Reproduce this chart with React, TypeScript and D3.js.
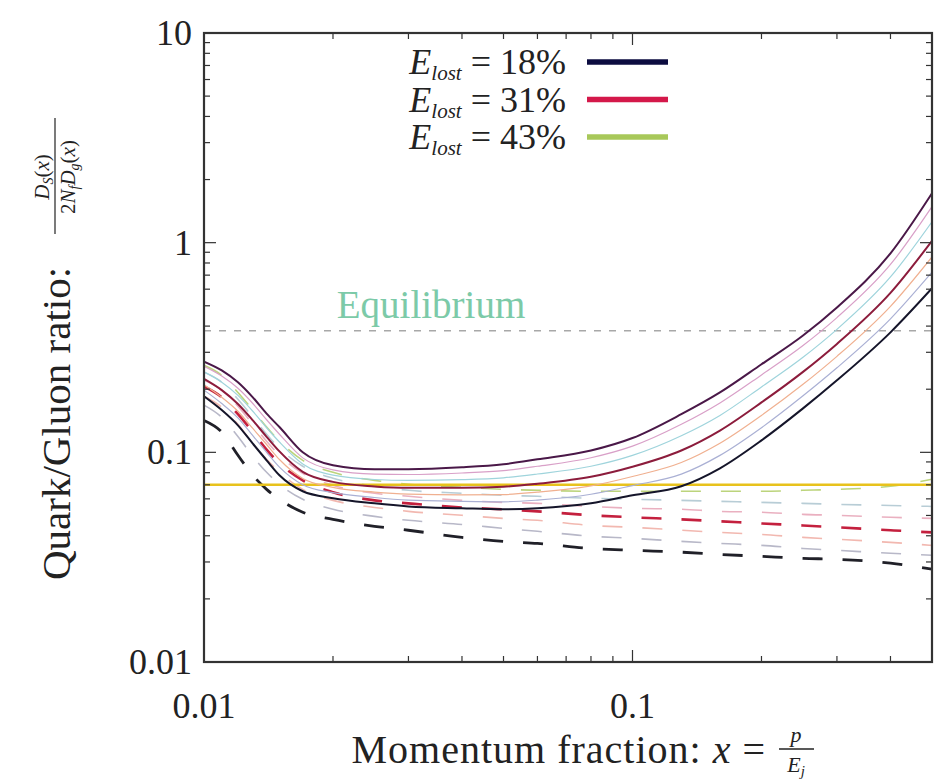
import React from "react";
import * as d3 from "d3";

// momentum fraction samples
const xs = [0.01, 0.011, 0.012, 0.013, 0.014, 0.015, 0.017, 0.02, 0.025, 0.03, 0.04, 0.05, 0.06, 0.08, 0.1, 0.13, 0.16, 0.2, 0.25, 0.3, 0.4, 0.5];

// solid curves, top to bottom
const solid0 = [0.271, 0.246, 0.216, 0.183, 0.153, 0.132, 0.1, 0.0867, 0.083, 0.083, 0.0848, 0.0877, 0.0926, 0.102, 0.117, 0.152, 0.193, 0.263, 0.361, 0.491, 0.889, 1.72];
const solid1 = [0.257, 0.231, 0.202, 0.171, 0.143, 0.122, 0.0941, 0.0824, 0.0787, 0.0784, 0.0797, 0.0818, 0.0858, 0.0942, 0.107, 0.136, 0.172, 0.234, 0.323, 0.439, 0.787, 1.485];
const solid2 = [0.242, 0.216, 0.187, 0.157, 0.131, 0.112, 0.088, 0.0778, 0.0742, 0.0735, 0.0741, 0.0756, 0.0788, 0.0858, 0.0967, 0.12, 0.15, 0.205, 0.284, 0.386, 0.686, 1.257];
const solid3 = [0.224, 0.198, 0.17, 0.142, 0.1186, 0.101, 0.0807, 0.0723, 0.0688, 0.0677, 0.0677, 0.0685, 0.0708, 0.0764, 0.0853, 0.102, 0.127, 0.173, 0.242, 0.329, 0.576, 1.02];
const solid4 = [0.21, 0.183, 0.157, 0.13, 0.109, 0.0924, 0.0751, 0.068, 0.0646, 0.0632, 0.0627, 0.0629, 0.0646, 0.0692, 0.0767, 0.0894, 0.1105, 0.15, 0.211, 0.287, 0.497, 0.855];
const solid5 = [0.198, 0.171, 0.146, 0.12, 0.1, 0.085, 0.0701, 0.0642, 0.0609, 0.0592, 0.0584, 0.0581, 0.0592, 0.0631, 0.0694, 0.0787, 0.0967, 0.131, 0.186, 0.253, 0.433, 0.723];
const solid6 = [0.185, 0.159, 0.1345, 0.11, 0.0916, 0.0777, 0.0652, 0.0604, 0.0571, 0.0552, 0.0541, 0.0535, 0.0541, 0.0571, 0.0624, 0.0689, 0.0839, 0.114, 0.162, 0.2205, 0.3735, 0.606];

// dashed curves, top to bottom
const dashed0 = [0.26, 0.233, 0.193, 0.159, 0.132, 0.113, 0.0916, 0.0803, 0.0735, 0.0704, 0.0681, 0.0666, 0.0659, 0.0652, 0.0652, 0.0652, 0.0652, 0.0652, 0.0659, 0.0666, 0.0689, 0.0744];
const dashed1 = [0.241, 0.216, 0.179, 0.147, 0.122, 0.1045, 0.0858, 0.0752, 0.0689, 0.0659, 0.0638, 0.0624, 0.0617, 0.0604, 0.0597, 0.059, 0.0584, 0.0577, 0.0571, 0.0565, 0.0558, 0.0552];
const dashed2 = [0.221, 0.198, 0.166, 0.136, 0.113, 0.0968, 0.0794, 0.0696, 0.0638, 0.0617, 0.059, 0.0577, 0.0571, 0.0552, 0.0541, 0.0535, 0.0523, 0.0518, 0.0506, 0.0501, 0.049, 0.0484];
const dashed3 = [0.206, 0.183, 0.152, 0.125, 0.103, 0.0886, 0.0735, 0.0645, 0.059, 0.0571, 0.0546, 0.0535, 0.0523, 0.0501, 0.049, 0.0479, 0.0469, 0.0458, 0.0448, 0.0439, 0.0425, 0.0415];
const dashed4 = [0.185, 0.164, 0.136, 0.11, 0.0926, 0.0803, 0.0666, 0.059, 0.0546, 0.0523, 0.0501, 0.0484, 0.0474, 0.0448, 0.0439, 0.0425, 0.0415, 0.0406, 0.0393, 0.0385, 0.0372, 0.036];
const dashed5 = [0.168, 0.147, 0.119, 0.0957, 0.0803, 0.0704, 0.0597, 0.0535, 0.0495, 0.0474, 0.0453, 0.0434, 0.042, 0.0398, 0.0389, 0.0376, 0.0368, 0.036, 0.0348, 0.0341, 0.033, 0.0323];
const dashed6 = [0.142, 0.125, 0.0968, 0.0777, 0.0666, 0.0597, 0.0518, 0.0479, 0.0444, 0.0425, 0.0393, 0.0376, 0.0368, 0.0348, 0.0341, 0.0334, 0.0326, 0.0319, 0.0312, 0.0309, 0.0296, 0.0277];

const equilibrium = 0.38;
const threshold = 0.07;

const legendLabels = ["18%", "31%", "43%"];
const legendColors = ["#0c0c40", "#d4184a", "#a8c85a"];

const yMajor = [0.01, 0.1, 1, 10];
const yTickLabels = ["0.01", "0.1", "1", "10"];
const xMajor = [0.01, 0.1];
const xTickLabels = ["0.01", "0.1"];

const solidSeries = [
  { values: solid0, color: "#4a1848", width: 2 },
  { values: solid1, color: "#d9a0c8", width: 1.2 },
  { values: solid2, color: "#9fd4dc", width: 1.2 },
  { values: solid3, color: "#8c1c3c", width: 2 },
  { values: solid4, color: "#f0b090", width: 1.2 },
  { values: solid5, color: "#aab0d4", width: 1.2 },
  { values: solid6, color: "#15152a", width: 2 },
];

const dashedSeries = [
  { values: dashed0, color: "#bcd47c", width: 1.6 },
  { values: dashed1, color: "#b8cdd6", width: 1.6 },
  { values: dashed2, color: "#eab0c0", width: 1.6 },
  { values: dashed3, color: "#c4203e", width: 2.6 },
  { values: dashed4, color: "#f2b8b0", width: 1.6 },
  { values: dashed5, color: "#b8b8c8", width: 1.6 },
  { values: dashed6, color: "#202028", width: 2.8 },
];

const W = 938;
const H = 784;
const serif = { fontFamily: "'Liberation Serif', 'DejaVu Serif', serif" };

export default function App() {
  const x = d3.scaleLog().domain([0.01, 0.5]).range([204, 932]);
  const y = d3.scaleLog().domain([0.01, 10]).range([662, 33]);
  const [x0, x1] = x.range();
  const [y0, y1] = y.range();

  const line = d3
    .line<number>()
    .x((_, i) => x(xs[i]))
    .y((d) => y(d))
    .curve(d3.curveMonotoneX);

  const yMinor = y.ticks().filter((t) => !yMajor.some((m) => Math.abs(m - t) / m < 1e-6));
  const xMinor = x.ticks().filter((t) => !xMajor.some((m) => Math.abs(m - t) / m < 1e-6));

  const frame = "#333";

  return (
    <svg width={W} height={H} style={{ position: "absolute", left: 0, top: 0, background: "#fff" }}>
      <defs>
        <clipPath id="plot">
          <rect x={x0} y={y1} width={x1 - x0} height={y0 - y1} />
        </clipPath>
      </defs>

      <g clipPath="url(#plot)">
        {/* equilibrium */}
        <line x1={x0} x2={x1} y1={y(equilibrium)} y2={y(equilibrium)} stroke="#a8a8a8" strokeWidth={1.3} strokeDasharray="7 8" />
        <text x={431} y={318} textAnchor="middle" fontSize={39} fill="#7ccaa8" style={serif}>
          Equilibrium
        </text>

        {dashedSeries.map((s, i) => (
          <path key={"d" + i} d={line(s.values) || ""} fill="none" stroke={s.color} strokeWidth={s.width} strokeDasharray="20 20" />
        ))}

        <line x1={x0} x2={x1} y1={y(threshold)} y2={y(threshold)} stroke="#e8c21c" strokeWidth={2.5} />

        {solidSeries.map((s, i) => (
          <path key={"s" + i} d={line(s.values) || ""} fill="none" stroke={s.color} strokeWidth={s.width} />
        ))}
      </g>

      {/* ticks, mirrored on all sides */}
      <g stroke={frame} strokeWidth={1.2}>
        {yMajor.map((t) => (
          <g key={"ym" + t}>
            <line x1={x0} x2={x0 + 12} y1={y(t)} y2={y(t)} />
            <line x1={x1} x2={x1 - 12} y1={y(t)} y2={y(t)} />
          </g>
        ))}
        {yMinor.map((t) => (
          <g key={"yn" + t}>
            <line x1={x0} x2={x0 + 6} y1={y(t)} y2={y(t)} />
            <line x1={x1} x2={x1 - 6} y1={y(t)} y2={y(t)} />
          </g>
        ))}
        {xMajor.map((t) => (
          <g key={"xm" + t}>
            <line x1={x(t)} x2={x(t)} y1={y0} y2={y0 - 12} />
            <line x1={x(t)} x2={x(t)} y1={y1} y2={y1 + 12} />
          </g>
        ))}
        {xMinor.map((t) => (
          <g key={"xn" + t}>
            <line x1={x(t)} x2={x(t)} y1={y0} y2={y0 - 6} />
            <line x1={x(t)} x2={x(t)} y1={y1} y2={y1 + 6} />
          </g>
        ))}
      </g>
      <rect x={x0} y={y1} width={x1 - x0} height={y0 - y1} fill="none" stroke={frame} strokeWidth={2.2} />

      {/* tick labels */}
      {yMajor.map((t, i) => (
        <text key={"yl" + t} x={192} y={y(t) + 12} textAnchor="end" fontSize={36} fill="#222" style={serif}>
          {yTickLabels[i]}
        </text>
      ))}
      {xMajor.map((t, i) => (
        <text key={"xl" + t} x={x(t)} y={718} textAnchor="middle" fontSize={36} fill="#222" style={serif}>
          {xTickLabels[i]}
        </text>
      ))}

      {/* legend */}
      {legendLabels.map((lab, i) => {
        const cy = 62 + i * 37.5;
        return (
          <g key={"lg" + i}>
            <text x={566} y={cy + 12} textAnchor="end" fontSize={36} fill="#222" style={serif}>
              <tspan fontStyle="italic">E</tspan>
              <tspan fontStyle="italic" fontSize={21} dy={6}>lost</tspan>
              <tspan dy={-6}>{" = " + lab}</tspan>
            </text>
            <line x1={587} x2={668} y1={cy} y2={cy} stroke={legendColors[i]} strokeWidth={5.5} />
          </g>
        );
      })}

      {/* x axis label */}
      <text x={766} y={763} textAnchor="end" fontSize={40} letterSpacing={1} fill="#222" style={serif}>
        Momentum fraction: <tspan fontStyle="italic">x</tspan> =
      </text>
      <text x={796} y={742} textAnchor="middle" fontSize={22} fontStyle="italic" fill="#222" style={serif}>
        p
      </text>
      <line x1={779} x2={814} y1={749} y2={749} stroke="#222" strokeWidth={1.3} />
      <text x={796} y={772} textAnchor="middle" fontSize={22} fill="#222" style={serif}>
        <tspan fontStyle="italic">E</tspan>
        <tspan fontStyle="italic" fontSize={15} dy={4}>j</tspan>
      </text>

      {/* y axis label */}
      <g transform="translate(70,580) rotate(-90)" style={serif}>
        <text x={0} y={0} fontSize={41} fill="#222">
          Quark/Gluon ratio:
        </text>
        <text x={403} y={-21} textAnchor="middle" fontSize={21} fill="#222">
          <tspan fontStyle="italic">D</tspan>
          <tspan fontStyle="italic" fontSize={14} dy={4}>S</tspan>
          <tspan dy={-4}>(</tspan>
          <tspan fontStyle="italic">x</tspan>
          <tspan>)</tspan>
        </text>
        <line x1={346} x2={462} y1={-15} y2={-15} stroke="#222" strokeWidth={1.2} />
        <text x={403} y={5} textAnchor="middle" fontSize={21} fill="#222">
          <tspan>2</tspan>
          <tspan fontStyle="italic">N</tspan>
          <tspan fontStyle="italic" fontSize={14} dy={4}>f</tspan>
          <tspan fontStyle="italic" dy={-4}>D</tspan>
          <tspan fontStyle="italic" fontSize={14} dy={4}>g</tspan>
          <tspan dy={-4}>(</tspan>
          <tspan fontStyle="italic">x</tspan>
          <tspan>)</tspan>
        </text>
      </g>
    </svg>
  );
}
